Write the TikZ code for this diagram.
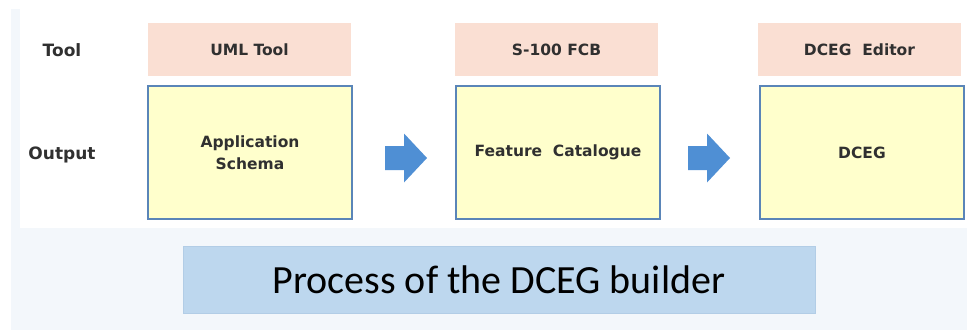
\documentclass[tikz,border=0pt]{standalone}
\usepackage{fontspec}
\setmainfont{Carlito}
\newfontfamily\labfont{DejaVu Sans}
\usetikzlibrary{positioning}

\definecolor{pagebg}{HTML}{F3F7FB}
\definecolor{toolfill}{HTML}{FADFD3}
\definecolor{outfill}{HTML}{FFFFCC}
\definecolor{outline}{HTML}{5A85B8}
\definecolor{arrowblue}{HTML}{4F8FD4}
\definecolor{titlefill}{HTML}{BDD7EE}
\definecolor{titleline}{HTML}{B2CDE6}
\definecolor{labgray}{HTML}{303030}

\tikzset{
  rowlabel/.style={font=\labfont\bfseries\fontsize{17}{20}\selectfont, text=labgray, inner sep=0pt},
  toolbox/.style={fill=toolfill, minimum width=203pt, minimum height=53pt, inner sep=0pt,
    font=\labfont\bfseries\fontsize{15.5}{18}\selectfont, text=labgray},
  outbox/.style={fill=outfill, draw=outline, line width=2pt, minimum width=204pt, minimum height=133pt,
    inner sep=0pt, align=center, font=\labfont\bfseries\fontsize{15.5}{22}\selectfont, text=labgray},
  blockarrow/.style={fill=arrowblue, draw=none},
  titlebox/.style={fill=titlefill, draw=titleline, line width=0.6pt, minimum width=632pt, minimum height=67pt,
    inner sep=0pt, font=\fontsize{40}{48}\selectfont, text=black}
}

\begin{document}
\begin{tikzpicture}[x=1pt, y=-1pt]
  % page and panel backgrounds
  \useasboundingbox (0,0) rectangle (967,330);
  \fill[white] (0,0) rectangle (967,330);
  \fill[pagebg] (11,9) rectangle (967,330);
  \fill[white] (20,0) rectangle (967,228);

  % row labels
  \node[rowlabel] (ltool) at (62,50) {Tool};
  \node[rowlabel] (lout) at (62,155) {Output};

  % tools
  \node[toolbox] (t1) at (249.5,49.5) {UML Tool};
  \node[toolbox] (t2) at (556.5,49.5) {S-100 FCB};
  \node[toolbox] (t3) at (859.5,49.5) {DCEG\ \ Editor};

  % outputs
  \node[outbox] (o1) at (250,152.5) {Application\\Schema};
  \node[outbox] (o2) at (558,152.5) {Feature\ \ Catalogue};
  \node[outbox] (o3) at (862,152.5) {DCEG};

  % block arrows between the outputs (shaft 24 high, head 49 high)
  \coordinate (a1) at (385,158);
  \coordinate (a2) at (688,158);
  \foreach \a in {a1,a2}{
    \fill[blockarrow] ([yshift=12pt]\a) -- ++(19,0) -- ++(0,-12.5) -- ++(23,24.5)
      -- ++(-23,24.5) -- ++(0,-12.5) -- ++(-19,0) -- cycle;
  }

  % caption
  \node[titlebox] (title) at (499,279.5) {Process of the DCEG builder};
\end{tikzpicture}
\end{document}
